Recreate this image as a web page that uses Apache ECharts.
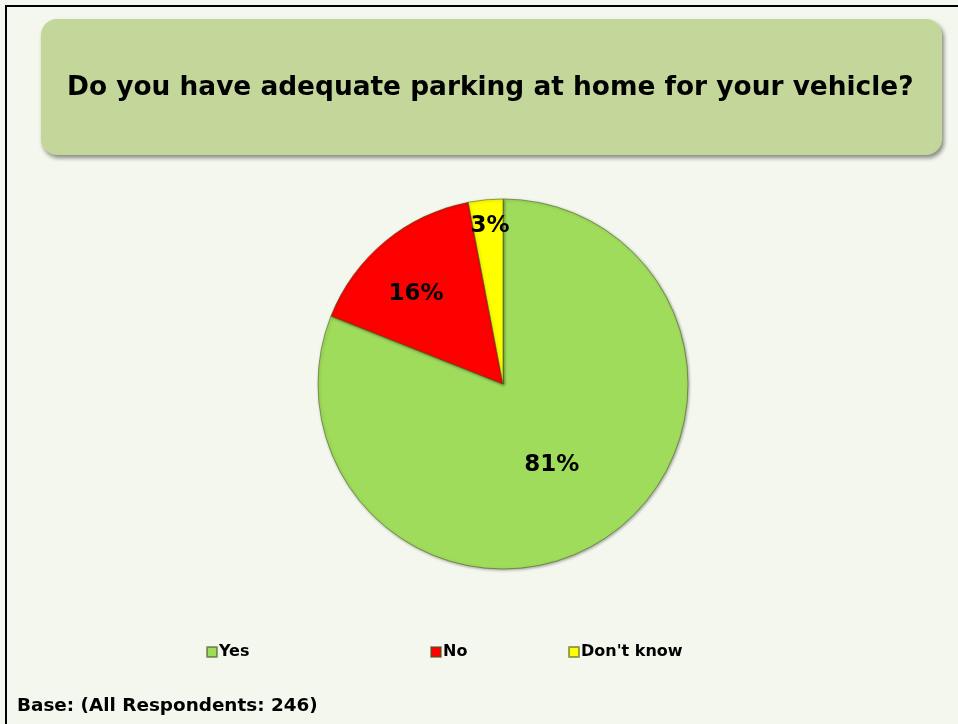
<!DOCTYPE html>
<html>
<head>
<meta charset="utf-8">
<script src="https://cdn.jsdelivr.net/npm/echarts@6/dist/echarts.min.js"></script>
<style>
  html, body { margin: 0; padding: 0; background: #F4F7EE; }
  #chart { width: 958px; height: 724px; }
</style>
</head>
<body>
<div id="chart"></div>
<script>
// Survey answers (percent of respondents)
const categories = ['Yes', 'No', "Don't know"];
const values = [81, 16, 3];
const colors = ['#9FDC5B', '#FF0000', '#FFFF00'];
const titleText = 'Do you have adequate parking at home for your vehicle?';
const baseText = 'Base: (All Respondents: 246)';

// Small nudges for the in-slice labels
const labelOffsets = [[-5, 2], [-26, -16], [-4, -63]];

const FONT = '"DejaVu Sans", Verdana, sans-serif';
const chart = echarts.init(document.getElementById('chart'));

const legendLefts = [206, 430, 568];

chart.setOption({
  backgroundColor: '#F4F7EE',
  animation: false,
  color: colors,
  title: {
    text: titleText,
    left: 67,
    top: 75,
    padding: 0,
    textStyle: { fontFamily: FONT, fontWeight: 'bold', fontSize: 26.4, color: '#000' }
  },
  graphic: [
    // chart frame (left and top edges)
    { type: 'polyline', silent: true, z: 10,
      shape: { points: [[6, 724], [6, 6], [958, 6]] },
      style: { stroke: '#000', lineWidth: 2, fill: null } },
    // title banner
    { type: 'rect', silent: true, z: -1,
      shape: { x: 41, y: 19, width: 901, height: 136, r: 16 },
      style: { fill: '#C4D79B', shadowBlur: 4, shadowOffsetX: 2, shadowOffsetY: 3,
               shadowColor: 'rgba(0,0,0,0.45)' } },
    { type: 'text', left: 17, top: 697, silent: true,
      style: { text: baseText, font: 'bold 18.4px ' + FONT, fill: '#000' } }
  ],
  legend: categories.map((name, i) => ({
    data: [name],
    left: legendLefts[i],
    top: 644,
    padding: 0,
    itemWidth: 10,
    itemHeight: 10,
    itemGap: 0,
    icon: 'rect',
    selectedMode: false,
    textStyle: { fontFamily: FONT, fontWeight: 'bold', fontSize: 16, color: '#000', padding: [0, 0, 0, -3] }
  })),
  series: [{
    type: 'pie',
    center: [503, 384],
    radius: 185,
    startAngle: 90,
    clockwise: true,
    data: categories.map((name, i) => ({
      name,
      value: values[i],
      label: { offset: labelOffsets[i] }
    })),
    itemStyle: {
      borderColor: 'rgba(70,90,30,0.55)',
      borderWidth: 1,
      shadowBlur: 3,
      shadowColor: 'rgba(0,0,0,0.35)',
      shadowOffsetX: 1,
      shadowOffsetY: 1
    },
    label: {
      show: true,
      position: 'inside',
      formatter: '{c}%',
      fontFamily: FONT,
      fontWeight: 'bold',
      fontSize: 23,
      color: '#000'
    },
    labelLine: { show: false },
    emphasis: { disabled: true }
  }]
});
</script>
</body>
</html>
